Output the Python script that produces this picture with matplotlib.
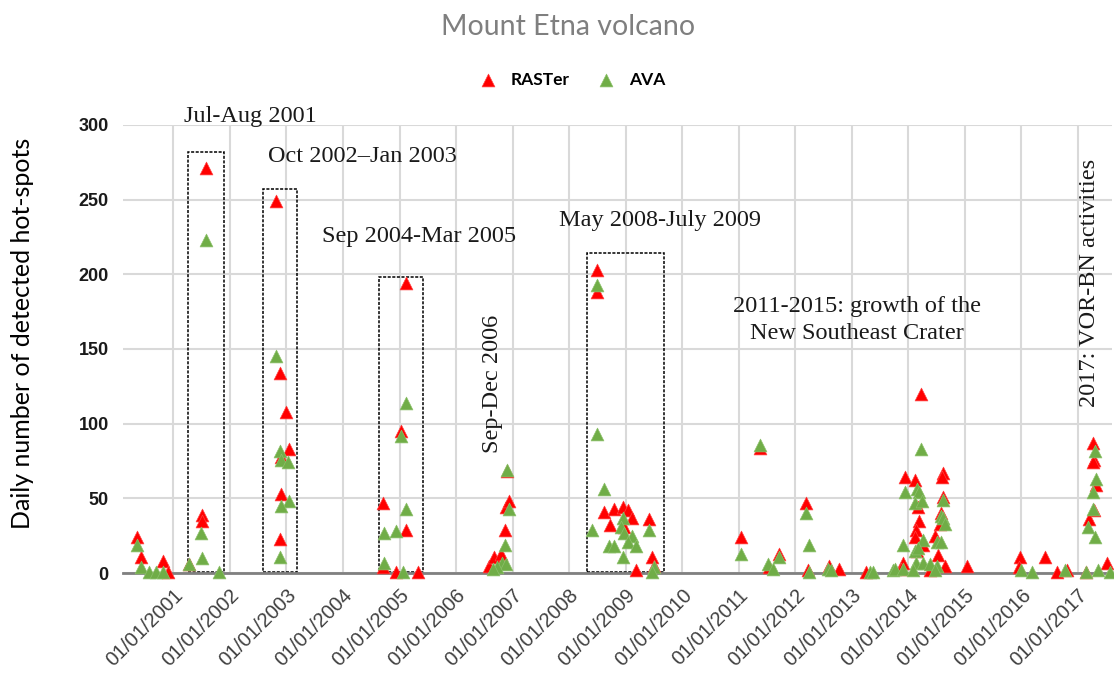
import matplotlib
matplotlib.use("Agg")
import matplotlib.pyplot as plt
from matplotlib.patches import Rectangle

# RASTer detections (decimal year, daily hot-spots)
raster_year = [2000.35, 2000.43, 2000.82, 2000.91, 2001.28, 2001.50, 2001.51, 2001.57,
               2002.82, 2002.89, 2003.00, 2003.05, 2002.91, 2002.91, 2002.88,
               2005.11, 2005.02, 2004.70, 2005.11, 2004.70, 2004.93, 2005.32,
               2006.58, 2006.68, 2006.80, 2006.86, 2006.89, 2006.93, 2006.91,
               2008.49, 2008.49, 2008.61, 2008.79, 2008.95, 2009.04, 2009.11, 2008.72,
               2008.97, 2009.41, 2009.46, 2009.18, 2009.50,
               2011.04, 2011.37, 2011.53, 2011.71, 2012.19, 2012.22, 2012.59, 2012.78, 2013.25,
               2014.22, 2013.94, 2014.12, 2014.61, 2014.60, 2014.61, 2014.17, 2014.58, 2014.19,
               2014.56, 2014.13, 2014.12, 2014.47, 2014.26, 2014.15, 2014.52, 2013.90, 2014.65,
               2015.04, 2014.38, 2013.88,
               2015.97, 2015.96, 2016.42, 2016.63, 2016.80, 2017.15, 2017.26, 2017.28, 2017.27,
               2017.32, 2017.29, 2017.20, 2017.51]
raster_count = [24, 11, 8, 1, 6, 39, 35, 271,
                249, 134, 108, 83, 78, 53, 23,
                194, 95, 47, 29, 4, 1, 1,
                5, 11, 13, 29, 44, 48, 68,
                203, 188, 41, 43, 44, 42, 37, 32,
                31, 36, 11, 2, 5,
                24, 84, 4, 13, 47, 2, 5, 3, 1,
                120, 64, 62, 67, 64, 51, 44, 40, 35,
                33, 29, 24, 25, 19, 15, 12, 7, 5,
                5, 2, 3,
                11, 4, 11, 1, 2, 1, 87, 76, 74,
                59, 42, 36, 7]

# AVA detections
ava_year = [2000.35, 2000.43, 2000.56, 2000.70, 2000.82, 2001.28, 2001.48, 2001.51, 2001.58, 2001.81,
            2002.82, 2002.89, 2002.91, 2003.02, 2003.05, 2002.91, 2002.88,
            2005.11, 2005.02, 2005.11, 2004.72, 2004.93, 2004.72, 2005.07,
            2006.91, 2006.93, 2006.87, 2006.82, 2006.89, 2006.72, 2006.65,
            2008.49, 2008.49, 2008.61, 2008.40, 2008.95, 2008.91, 2008.97, 2009.11, 2008.70,
            2008.79, 2009.04, 2009.18, 2008.95, 2009.41, 2009.50, 2009.46,
            2011.04, 2011.37, 2011.51, 2011.60, 2011.71, 2012.19, 2012.24, 2012.25, 2012.58,
            2012.63, 2013.32, 2013.37, 2013.73,
            2014.22, 2013.94, 2014.15, 2014.19, 2014.61, 2014.12, 2014.24, 2014.58, 2014.61,
            2014.65, 2013.90, 2014.26, 2014.50, 2014.58, 2014.12, 2014.17, 2014.13, 2014.26,
            2014.38, 2014.50, 2013.76, 2013.90, 2014.08, 2014.47,
            2016.00, 2016.19, 2016.77, 2017.30, 2017.32, 2017.26, 2017.26, 2017.18, 2017.30,
            2017.36, 2017.15, 2017.57]
ava_count = [19, 4, 1, 1, 1, 6, 27, 10, 223, 1,
             145, 82, 76, 74, 48, 45, 11,
             114, 92, 43, 27, 28, 7, 1,
             69, 43, 19, 7, 6, 4, 3,
             193, 93, 56, 29, 37, 31, 27, 25, 18,
             18, 21, 18, 11, 29, 4, 1,
             13, 86, 6, 3, 11, 40, 19, 1, 3,
             2, 1, 1, 2,
             83, 54, 56, 54, 49, 47, 48, 38, 37,
             33, 19, 22, 21, 21, 15, 17, 7, 7,
             6, 5, 3, 3, 2, 2,
             2, 1, 2, 82, 63, 54, 43, 31, 24,
             2, 1, 1]

# eruptive periods (dotted boxes)
box_start = [2001.25, 2002.59, 2004.63, 2008.31]
box_end = [2001.89, 2003.19, 2005.42, 2009.67]
box_top = [282, 257, 198, 214]

years = list(range(2001, 2018))
year_labels = ["01/01/%d" % y for y in years]

fig = plt.figure(figsize=(11.14, 6.77), dpi=100)
ax = fig.add_axes([0.110, 0.1536, 0.888, 0.6618])

ax.set_xlim(2000.10, 2017.60)
ax.set_ylim(0, 300)
ax.set_yticks(range(0, 301, 50))
ax.set_xticks(years)
ax.grid(True, color="#d9d9d9", lw=1.5)
ax.set_axisbelow(True)
for s in ["top", "right", "left"]:
    ax.spines[s].set_visible(False)
ax.spines["bottom"].set_color("#808080")
ax.spines["bottom"].set_linewidth(2)
ax.tick_params(length=0)
ax.tick_params(axis="y", pad=10)
ax.set_yticklabels([str(v) for v in range(0, 301, 50)], fontsize=13,
                   family="Liberation Sans", fontweight="bold", color="#1a1a1a")
ax.set_xticklabels(year_labels, rotation=45, ha="right", rotation_mode="anchor",
                   fontsize=14.5, family="Liberation Sans", color="#404040")
ax.tick_params(axis="x", pad=9)

for x0, x1, top in zip(box_start, box_end, box_top):
    ax.add_patch(Rectangle((x0, 0.5), x1 - x0, top - 0.5, fill=False, ec="black",
                           lw=1.1, ls=(0, (2, 1)), zorder=2))

ax.scatter(raster_year, raster_count, marker="^", s=85, color="#ff0000",
           edgecolors="#ff4040", linewidths=0.5, zorder=3, clip_on=False, label="RASTer")
ax.scatter(ava_year, ava_count, marker="^", s=85, color="#70ad47",
           edgecolors="#8cc06a", linewidths=0.5, zorder=4, clip_on=False, label="AVA")

serif = dict(family="Liberation Serif", fontsize=17.5, color="#1a1a1a")
ax.text(2002.37, 306, "Jul-Aug 2001", ha="center", va="center", **serif)
ax.text(2004.35, 278.6, "Oct 2002\u2013Jan 2003", ha="center", va="center", **serif)
ax.text(2005.34, 225, "Sep 2004-Mar 2005", ha="center", va="center", **serif)
ax.text(2006.65, 126.6, "Sep-Dec 2006", ha="center", va="center", rotation=90, **serif)
ax.text(2009.60, 235.8, "May 2008-July 2009", ha="center", va="center", **serif)
ax.text(2013.09, 169.5, "2011-2015: growth of the\nNew Southeast Crater", ha="center",
        va="center", linespacing=1.4, **serif)
ax.text(2017.21, 194, "2017: VOR-BN activities", ha="center", va="center", rotation=90, **serif)

fig.text(0.0205, 0.508, "Daily number of detected hot-spots", rotation=90, ha="center",
         va="center", family="Lato", fontsize=18, color="black")

fig.text(0.51, 0.96, "Mount Etna volcano", ha="center", va="center", family="Lato",
         fontsize=20.5, color="#7f7f7f")
fig.legend(loc="center", bbox_to_anchor=(0.51, 0.882), ncol=2, frameon=False,
           prop=dict(family="Lato", size=12.5, weight="bold"), handletextpad=0.3,
           columnspacing=1.1, markerscale=1.0)

fig.savefig("out.png", dpi=100)
